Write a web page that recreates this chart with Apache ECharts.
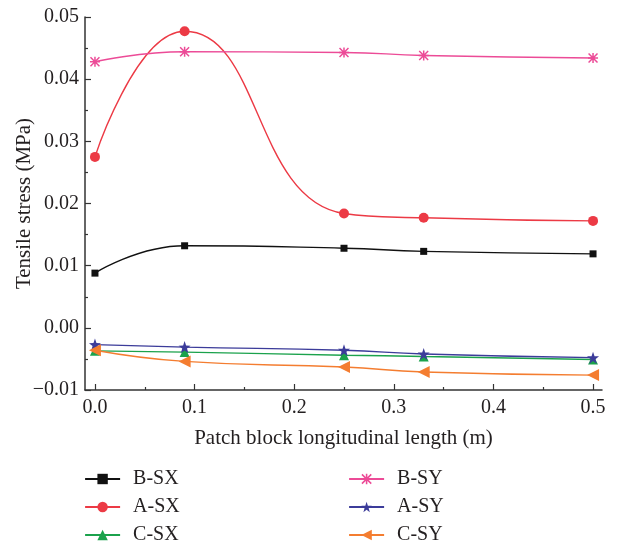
<!DOCTYPE html>
<html>
<head>
<meta charset="utf-8">
<script src="https://cdn.jsdelivr.net/npm/echarts@6/dist/echarts.min.js"></script>
<style>
  html, body { margin: 0; padding: 0; background: #fff; }
  #chart { width: 618px; height: 545px; }
</style>
</head>
<body>
<div id="chart"></div>
<script>
// Patch block longitudinal length (m)
const lengths = [0, 0.09, 0.25, 0.33, 0.5];

// Tensile stress (MPa) per case
const bSX = [0.0088, 0.0132, 0.0128, 0.0123, 0.0119];
const aSX = [0.0275, 0.0477, 0.0184, 0.0177, 0.0172];
const cSX = [-0.0037, -0.0039, -0.0044, -0.0046, -0.0051];
const bSY = [0.0428, 0.0444, 0.0443, 0.0438, 0.0434];
const aSY = [-0.0027, -0.0031, -0.0036, -0.0042, -0.0048];
const cSY = [-0.0036, -0.0054, -0.0063, -0.0071, -0.0076];

// Axis ticks
const xMajorTicks = [0, 0.1, 0.2, 0.3, 0.4, 0.5];
const xMinorTicks = [0.05, 0.15, 0.25, 0.35, 0.45];

const textColor = '#231f20';
const fontFamily = '"Liberation Serif", "DejaVu Serif", serif';
const fontSize = 20;
const nameFontSize = 21;

const starPath = 'path://M50 0 L61.76 33.82 L97.55 34.55 L69.02 56.18 L79.39 90.45 L50 70 L20.61 90.45 L30.98 56.18 L2.45 34.55 L38.24 33.82 Z';
const asteriskPath = 'path://M8.5 0 H11.5 V20 H8.5 Z M0 8.5 H20 V11.5 H0 Z M2.1 0 L20 17.9 L17.9 20 L0 2.1 Z M17.9 0 L20 2.1 L2.1 20 L0 17.9 Z';

function pairs(ys) {
  return lengths.map((x, i) => [x, ys[i]]);
}

function line(name, ys, color, symbol, size, extra) {
  return Object.assign({
    name: name,
    type: 'line',
    data: pairs(ys),
    smooth: 0.5,
    symbol: symbol,
    symbolSize: size,
    lineStyle: { color: color, width: 1.4 },
    itemStyle: { color: color },
    emphasis: { disabled: true }
  }, extra || {});
}

function legendColumn(left, names) {
  return {
    orient: 'vertical',
    left: left,
    top: 469,
    padding: 0,
    height: 90,
    itemWidth: 35,
    itemHeight: 13,
    itemGap: 8,
    lineStyle: { width: 2.2 },
    textStyle: {
      fontSize: fontSize, color: textColor, fontFamily: fontFamily,
      lineHeight: 20, padding: [0, 0, 0, 8]
    },
    data: names
  };
}

const chart = echarts.init(document.getElementById('chart'), null, { renderer: 'canvas' });

chart.setOption({
  animation: false,
  backgroundColor: '#fff',
  textStyle: { fontFamily: fontFamily, color: textColor },
  grid: { left: 85, top: 17, right: 16, bottom: 155, containLabel: false, outerBoundsMode: 'none' },
  xAxis: [{
    type: 'value',
    min: -0.01,
    max: 0.509,
    name: 'Patch block longitudinal length (m)',
    nameLocation: 'middle',
    nameGap: 38,
    nameTextStyle: { fontSize: nameFontSize, color: textColor, fontFamily: fontFamily },
    axisLine: { show: true, onZero: false, lineStyle: { color: '#333', width: 1.5 } },
    axisTick: { show: true, inside: true, length: 6, customValues: xMajorTicks, lineStyle: { color: '#333', width: 1.2 } },
    axisLabel: {
      show: true, customValues: xMajorTicks, margin: 8,
      fontSize: fontSize, color: textColor, fontFamily: fontFamily,
      formatter: v => v.toFixed(1)
    },
    splitLine: { show: false }
  }, {
    type: 'value',
    min: -0.01,
    max: 0.509,
    position: 'bottom',
    axisLine: { show: false, onZero: false },
    axisTick: { show: true, inside: true, length: 3, customValues: xMinorTicks, lineStyle: { color: '#333', width: 1.2 } },
    axisLabel: { show: false },
    splitLine: { show: false }
  }],
  yAxis: {
    type: 'value',
    min: -0.01,
    max: 0.05,
    interval: 0.01,
    name: 'Tensile stress (MPa)',
    nameLocation: 'middle',
    nameGap: 50,
    nameMoveOverlap: false,
    nameTextStyle: { fontSize: nameFontSize, color: textColor, fontFamily: fontFamily },
    axisLine: { show: true, onZero: false, lineStyle: { color: '#333', width: 1.5 } },
    axisTick: { show: true, inside: true, length: 6, lineStyle: { color: '#333', width: 1.2 } },
    minorTick: { show: true, splitNumber: 2, length: 3, lineStyle: { color: '#333', width: 1.2 } },
    axisLabel: {
      margin: 6, fontSize: fontSize, color: textColor, fontFamily: fontFamily,
      formatter: v => (v < 0 ? '\u2212' : '') + Math.abs(v).toFixed(2)
    },
    splitLine: { show: false },
    minorSplitLine: { show: false }
  },
  legend: [
    legendColumn(84, ['B-SX', 'A-SX', 'C-SX']),
    legendColumn(348, ['B-SY', 'A-SY', 'C-SY'])
  ],
  series: [
    line('B-SX', bSX, '#111111', 'rect', 7),
    line('A-SX', aSX, '#ec3a45', 'circle', 10),
    line('C-SX', cSX, '#1ba24c', 'triangle', 10),
    line('B-SY', bSY, '#ec4b97', asteriskPath, 10),
    line('A-SY', aSY, '#3c3c9a', starPath, 12),
    line('C-SY', cSY, '#f47d30', 'triangle', 12, { symbolRotate: 90 })
  ]
});
</script>
</body>
</html>
